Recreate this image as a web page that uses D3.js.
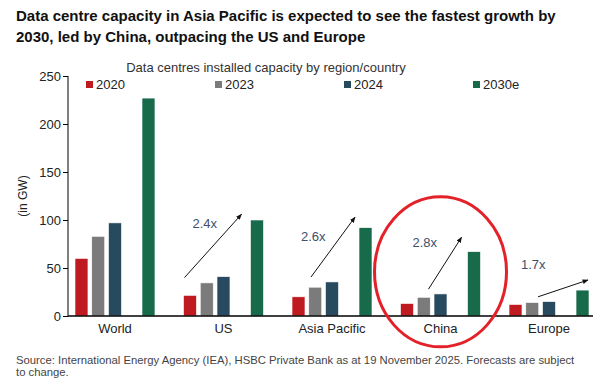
<!DOCTYPE html>
<html>
<head>
<meta charset="utf-8">
<script src="https://cdn.jsdelivr.net/npm/d3@7"></script>
<style>
  body { margin: 0; background: #fff; }
  svg { display: block; font-family: "Liberation Sans", Arial, sans-serif; }
</style>
</head>
<body>
<svg id="chart"></svg>
<script>
var width = 612;
var height = 388;

// data
var categories = ["World", "US", "Asia Pacific", "China", "Europe"];
var seriesNames = ["2020", "2023", "2024", "2030e"];
var v2020 = [60, 21.5, 20, 13, 12];
var v2023 = [83, 34.5, 30, 19.5, 14];
var v2024 = [97, 41, 35.5, 23, 15];
var v2030 = [227, 100, 92, 67, 27];
var yTicks = [0, 50, 100, 150, 200, 250];
var multRegions = ["US", "Asia Pacific", "China", "Europe"];
var multLabels = ["2.4x", "2.6x", "2.8x", "1.7x"];

var colors = {"2020": "#bf1a1f", "2023": "#7b7b7b", "2024": "#274a5f", "2030e": "#186b4a"};
var seriesValues = {"2020": v2020, "2023": v2023, "2024": v2024, "2030e": v2030};

var svg = d3.select("#chart").attr("width", width).attr("height", height);

// title
var title = svg.append("g").attr("font-weight", "bold").attr("font-size", 15).attr("fill", "#111");
title.append("text").attr("x", 16).attr("y", 21)
    .text("Data centre capacity in Asia Pacific is expected to see the fastest growth by");
title.append("text").attr("x", 16).attr("y", 42)
    .text("2030, led by China, outpacing the US and Europe");

// scales
var x0 = d3.scaleBand().domain(categories).range([75, 589]).paddingInner(0.263).paddingOuter(0);
// slot 4 is left empty between 2024 and 2030e
var x1 = d3.scaleBand().domain(["2020", "2023", "2024", "_gap", "2030e"])
    .range([0, x0.bandwidth()]).paddingInner(0.226);
var y = d3.scaleLinear().domain([0, 250]).range([316, 76]);

// y axis
var yAxis = svg.append("g")
    .attr("transform", "translate(68,0)")
    .call(d3.axisLeft(y).tickValues(yTicks).tickSize(5).tickSizeOuter(0));
yAxis.select(".domain").attr("d", "M0," + y(250) + "V" + y(0)).attr("stroke", "#000");
yAxis.selectAll(".tick line").attr("stroke", "#000");
yAxis.selectAll(".tick text").attr("font-size", 13).attr("fill", "#222")
    .attr("font-family", "Liberation Sans, Arial, sans-serif").attr("x", -7);

svg.append("text")
    .attr("transform", "translate(27," + y(125) + ") rotate(-90)")
    .attr("text-anchor", "middle").attr("font-size", 12).attr("fill", "#222")
    .text("(in GW)");

// bars
var groups = svg.append("g").selectAll("g")
    .data(categories)
    .join("g")
    .attr("transform", d => "translate(" + x0(d) + ",0)");

groups.selectAll("rect")
    .data((c, i) => seriesNames.map(s => ({key: s, value: seriesValues[s][i]})))
    .join("rect")
    .attr("x", d => x1(d.key))
    .attr("width", x1.bandwidth())
    .attr("y", d => y(d.value))
    .attr("height", d => y(0) - y(d.value))
    .attr("fill", d => colors[d.key])
    .attr("stroke", "#fff")
    .attr("stroke-width", 0.6);

// x axis
var xAxis = svg.append("g")
    .attr("transform", "translate(0," + y(0) + ")")
    .call(d3.axisBottom(x0).tickSize(0));
xAxis.select(".domain").attr("d", "M68,0H593").attr("stroke", "#000").attr("stroke-width", 1.3);
xAxis.selectAll(".tick text").attr("font-size", 13).attr("fill", "#222")
    .attr("font-family", "Liberation Sans, Arial, sans-serif").attr("dy", "1.05em");

// legend
svg.append("text")
    .attr("x", 266).attr("y", 72).attr("text-anchor", "middle")
    .attr("font-size", 13).attr("fill", "#333")
    .text("Data centres installed capacity by region/country");

var legend = svg.append("g").selectAll("g")
    .data(seriesNames)
    .join("g")
    .attr("transform", (d, i) => "translate(" + (86 + i * 129) + ",81)");
legend.append("rect").attr("width", 7).attr("height", 7).attr("fill", d => colors[d]);
legend.append("text").attr("x", 10).attr("y", 8).attr("font-size", 13).attr("fill", "#222").text(d => d);

// growth arrows
svg.append("defs").append("marker")
    .attr("id", "arrow").attr("viewBox", "0 0 10 10")
    .attr("refX", 9).attr("refY", 5)
    .attr("markerWidth", 6).attr("markerHeight", 6)
    .attr("orient", "auto")
    .append("path").attr("d", "M0,1L10,5L0,9Z").attr("fill", "#111");

var arrowFrom = [[1, 40], [19, 40.6], [28, 28], [29, 20]];
var arrowTo = [[58, 106], [63, 103], [61, 82], [79, 37.5]];
var labelAt = [[9, 91.5], [9, 78], [12, 72], [12, 49]];

var ann = svg.append("g");
multRegions.forEach(function(r, i){
    var bx = x0(r);
    ann.append("line")
        .attr("x1", bx + arrowFrom[i][0]).attr("y1", y(arrowFrom[i][1]))
        .attr("x2", bx + arrowTo[i][0]).attr("y2", y(arrowTo[i][1]))
        .attr("stroke", "#111").attr("stroke-width", 1)
        .attr("marker-end", "url(#arrow)");
    ann.append("text")
        .attr("x", bx + labelAt[i][0]).attr("y", y(labelAt[i][1]))
        .attr("font-size", 13).attr("fill", "#3d4f6a")
        .text(multLabels[i]);
});

// highlight China
svg.append("ellipse")
    .attr("cx", x0("China") + x0.bandwidth() / 2)
    .attr("cy", y(46))
    .attr("rx", 66).attr("ry", 75)
    .attr("fill", "none").attr("stroke", "#e32129").attr("stroke-width", 3);

// source
var src = svg.append("g").attr("font-size", 11.3).attr("fill", "#444");
src.append("text").attr("x", 16).attr("y", 364)
    .text("Source: International Energy Agency (IEA), HSBC Private Bank as at 19 November 2025. Forecasts are subject");
src.append("text").attr("x", 16).attr("y", 376).text("to change.");
</script>
</body>
</html>
